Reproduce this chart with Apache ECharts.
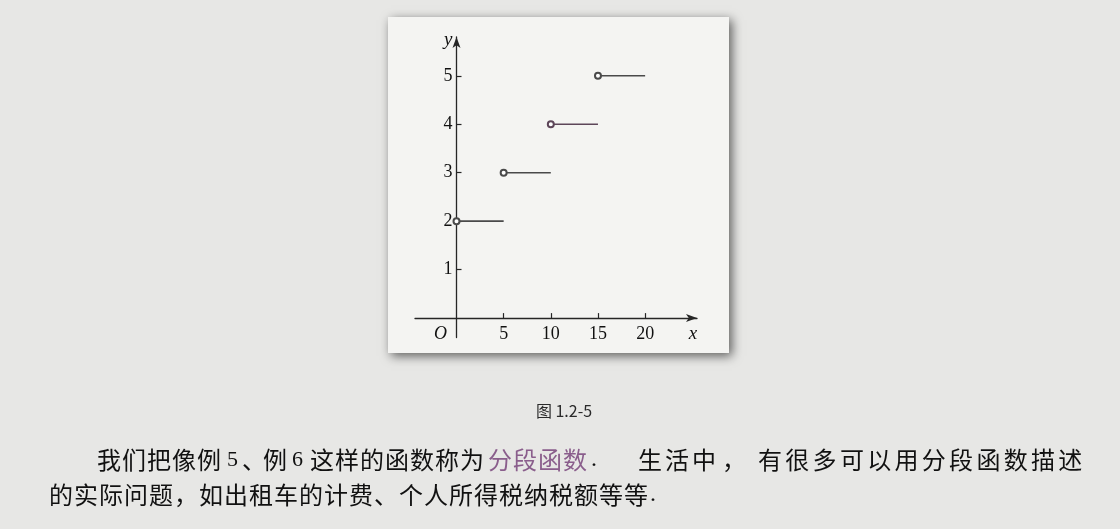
<!DOCTYPE html>
<html>
<head>
<meta charset="utf-8">
<script src="https://cdn.jsdelivr.net/npm/echarts@6/dist/echarts.min.js"></script>
<style>
  html, body { margin: 0; padding: 0; background: #e7e7e5; }
  #chart { width: 1120px; height: 529px; }
</style>
</head>
<body>
<div id="chart"></div>
<script>
// ---- data ----
const segStart = [0, 5, 10, 15];
const segEnd   = [5, 10, 15, 20];
const segValue = [2, 3, 4, 5];
const xTickValues = [5, 10, 15, 20];
const xLabelValues = [0, 5, 10, 15, 20];
const yTickValues = [1, 2, 3, 4, 5];
const captionText = '图 1.2-5';

// ---- styles ----
const segColors = ['#4a4a4a', '#4a4a4a', '#5d4659', '#4a4a4a'];
const serif = '"Liberation Serif", "DejaVu Serif", serif';
const cjk = '"Noto Sans CJK SC", sans-serif';
const ink = '#111111';
const axisInk = '#262626';

const chart = echarts.init(document.getElementById('chart'), null, { renderer: 'canvas' });

const series = segStart.map((s, i) => ({
  type: 'line',
  xAxisIndex: 0,
  yAxisIndex: 0,
  silent: true,
  animation: false,
  z: 3,
  data: [
    { value: [s, segValue[i]], symbol: 'emptyCircle', symbolSize: 6 },
    { value: [segEnd[i], segValue[i]], symbol: 'none' }
  ],
  lineStyle: { color: segColors[i], width: 1.6 },
  itemStyle: { color: segColors[i], borderWidth: 1.2 }
}));

// paragraph text placed in runs (x, text, pitch, color, font)
function runs(list, y) {
  const out = [];
  list.forEach(r => {
    Array.from(r.t).forEach((c, k) => {
      out.push({
        type: 'text', z: 5, silent: true,
        x: r.x + k * (r.p || 25), y: y,
        style: {
          text: c,
          fill: r.c || ink,
          font: r.f || ('24px ' + cjk),
          textVerticalAlign: 'middle',
          verticalAlign: 'middle'
        }
      });
    });
  });
  return out;
}
const digitFont = '22px ' + serif;
const purple = '#8a5e8c';
const line1 = runs([
  { x: 97, t: '我们把像例', p: 25 },
  { x: 227, t: '5', f: digitFont },
  { x: 242, t: '、', p: 20 },
  { x: 263, t: '例' },
  { x: 292, t: '6', f: digitFont },
  { x: 310, t: '这样的函数称为', p: 25 },
  { x: 488, t: '分段函数', p: 25, c: purple },
  { x: 591, t: '.', f: '24px ' + serif },
  { x: 638, t: '生活中', p: 27 },
  { x: 722, t: '，' },
  { x: 758, t: '有很多可以用分段函数描述', p: 27.3 }
], 460);
const line2 = runs([
  { x: 49, t: '的实际问题，如出租车的计费、个人所得税纳税额等等', p: 25 },
  { x: 650, t: '.', f: '24px ' + serif }
], 495);

const axisLineStyle = { color: axisInk, width: 1.3 };
const labelGrid = { left: 456.5, right: 423, top: 37, bottom: 210.9 };
const lineGrid = { left: 415, right: 423, top: 37, bottom: 191.5 };

const option = {
  backgroundColor: '#e7e7e5',
  animation: false,
  grid: [
    Object.assign({ containLabel: false }, labelGrid),
    Object.assign({ containLabel: false }, lineGrid)
  ],
  xAxis: [
    {
      gridIndex: 0,
      type: 'value', min: 0, max: 25.5,
      splitLine: { show: false },
      axisLine: { show: false, onZero: false },
      axisTick: { show: true, inside: true, length: 5, customValues: xTickValues,
        lineStyle: { color: axisInk, width: 1.2 } },
      axisLabel: {
        customValues: xLabelValues,
        margin: 7,
        color: ink,
        fontFamily: serif,
        fontSize: 18,
        formatter: v => v === 0 ? '{o|O}' : String(v),
        rich: { o: { fontFamily: serif, fontStyle: 'italic', fontSize: 18, color: ink, padding: [0, 32, 0, 0] } }
      }
    },
    {
      gridIndex: 1,
      type: 'value', min: -4.4, max: 25.5,
      splitLine: { show: false },
      axisTick: { show: false },
      axisLabel: { show: false },
      axisLine: { show: true, onZero: true, symbol: ['none', 'arrow'], symbolSize: [6, 11], lineStyle: axisLineStyle },
      name: 'x',
      nameLocation: 'end',
      nameGap: -4,
      nameTextStyle: { fontFamily: serif, fontStyle: 'italic', fontSize: 19, color: ink,
        align: 'center', verticalAlign: 'top', padding: [6, 0, 0, 0] }
    }
  ],
  yAxis: [
    {
      gridIndex: 0,
      type: 'value', min: 0, max: 5.8,
      splitLine: { show: false },
      axisLine: { show: false, onZero: false },
      axisTick: { show: true, inside: true, length: 5, customValues: yTickValues,
        lineStyle: { color: axisInk, width: 1.2 } },
      axisLabel: { customValues: yTickValues, margin: 4, color: ink, fontFamily: serif, fontSize: 18 }
    },
    {
      gridIndex: 1,
      type: 'value', min: -0.4, max: 5.8,
      splitLine: { show: false },
      axisTick: { show: false },
      axisLabel: { show: false },
      axisLine: { show: true, onZero: true, symbol: ['none', 'arrow'], symbolSize: [6, 11], lineStyle: axisLineStyle },
      name: 'y',
      nameLocation: 'end',
      nameGap: -3,
      nameTextStyle: { fontFamily: serif, fontStyle: 'italic', fontSize: 19, color: ink,
        align: 'right', verticalAlign: 'middle', padding: [0, 4, 0, 0] }
    }
  ],
  series: series,
  graphic: {
    elements: [
      {
        type: 'rect', z: -10, silent: true,
        shape: { x: 388, y: 17, width: 341, height: 336 },
        style: {
          fill: '#f4f4f2',
          shadowBlur: 10, shadowOffsetX: 3, shadowOffsetY: 3,
          shadowColor: 'rgba(0,0,0,0.6)'
        }
      },
      {
        type: 'text', z: 5, silent: true,
        x: 564, y: 411,
        style: {
          text: captionText,
          fill: '#2a2a2a',
          font: '16px ' + cjk,
          textAlign: 'center', align: 'center',
          textVerticalAlign: 'middle', verticalAlign: 'middle'
        }
      }
    ].concat(line1, line2)
  }
};
chart.setOption(option);
</script>
</body>
</html>
